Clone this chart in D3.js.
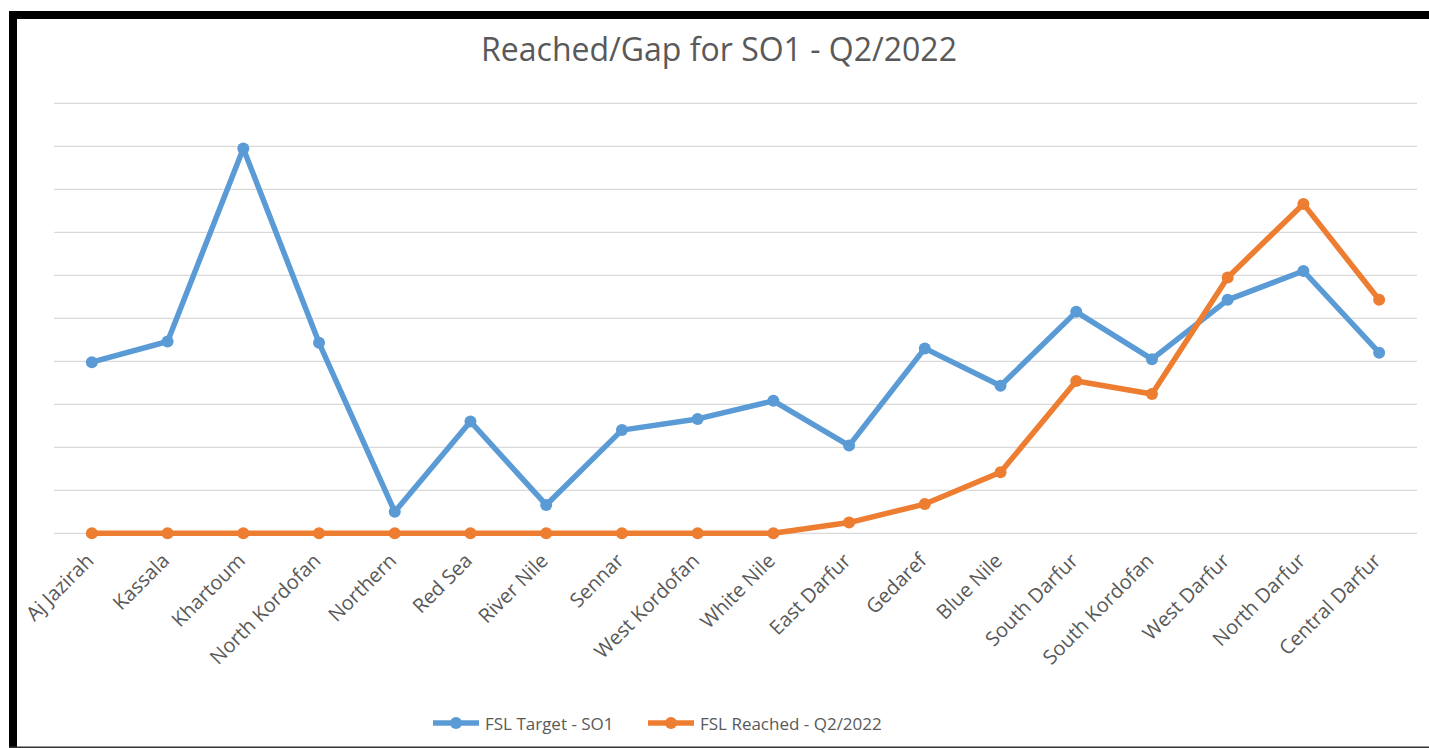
<!DOCTYPE html>
<html>
<head>
<meta charset="utf-8">
<script src="https://cdn.jsdelivr.net/npm/d3@7"></script>
<style>
  html, body { margin: 0; padding: 0; background: #fff; }
  svg { display: block; font-family: "Open Sans", "Noto Sans", sans-serif; }
</style>
</head>
<body>
<svg id="chart"></svg>
<script>
const regions = ['Aj Jazirah', 'Kassala', 'Khartoum', 'North Kordofan', 'Northern', 'Red Sea',
    'River Nile', 'Sennar', 'West Kordofan', 'White Nile', 'East Darfur', 'Gedaref', 'Blue Nile',
    'South Darfur', 'South Kordofan', 'West Darfur', 'North Darfur', 'Central Darfur'];
const targetSO1 = [3.98, 4.46, 8.95, 4.43, 0.50, 2.60, 0.66, 2.40, 2.66, 3.08,
    2.04, 4.30, 3.43, 5.15, 4.05, 5.43, 6.10, 4.20];
const reachedQ2 = [0, 0, 0, 0, 0, 0, 0, 0, 0, 0,
    0.25, 0.68, 1.42, 3.54, 3.24, 5.95, 7.66, 5.43];
const gridTicks = [0, 1, 2, 3, 4, 5, 6, 7, 8, 9, 10];
const seriesNames = ['FSL Target - SO1', 'FSL Reached - Q2/2022'];
const seriesColors = ['#5b9bd5', '#ed7d31'];

drawChart();

function drawChart() {
    const width = 1429, height = 748;
    const plot = { left: 54, right: 1417, top: 103.3, bottom: 533.3 };

    const svg = d3.select('#chart')
        .attr('width', width)
        .attr('height', height);

    svg.append('rect').attr('width', width).attr('height', height).attr('fill', '#fff');

    // screenshot frame
    svg.append('rect').attr('x', 9).attr('y', 11).attr('width', width - 9).attr('height', 8).attr('fill', '#000');
    svg.append('rect').attr('x', 9).attr('y', 11).attr('width', 8).attr('height', height - 11).attr('fill', '#000');
    svg.append('rect').attr('x', 9).attr('y', 746.5).attr('width', width - 9).attr('height', 1.5).attr('fill', '#333');

    const x = d3.scaleBand()
        .domain(regions)
        .range([plot.left, plot.right]);

    const y = d3.scaleLinear()
        .domain([0, 10])
        .range([plot.bottom, plot.top]);

    // gridlines
    svg.append('g')
        .selectAll('line')
        .data(gridTicks)
        .enter()
        .append('line')
        .attr('x1', plot.left)
        .attr('x2', plot.right)
        .attr('y1', (d) => y(d))
        .attr('y2', (d) => y(d))
        .attr('stroke', '#d9d9d9')
        .attr('stroke-width', 1.3);

    // title
    svg.append('text')
        .attr('x', 719)
        .attr('y', 61)
        .attr('text-anchor', 'middle')
        .attr('font-size', 32)
        .attr('fill', '#595959')
        .text('Reached/Gap for SO1 - Q2/2022');

    // category labels, rotated
    const cx = (d) => x(d) + x.bandwidth() / 2;
    svg.append('g')
        .selectAll('text')
        .data(regions)
        .enter()
        .append('text')
        .attr('transform', (d) => 'translate(' + (cx(d) + 3) + ',' + 562 + ') rotate(-45)')
        .attr('text-anchor', 'end')
        .attr('font-size', 20)
        .attr('fill', '#595959')
        .text((d) => d);

    const line = d3.line()
        .x((d, i) => cx(regions[i]))
        .y((d) => y(d));

    [targetSO1, reachedQ2].forEach((values, s) => {
        const g = svg.append('g');
        g.append('path')
            .datum(values)
            .attr('d', line)
            .attr('fill', 'none')
            .attr('stroke', seriesColors[s])
            .attr('stroke-width', 5.5)
            .attr('stroke-linejoin', 'round');
        g.selectAll('circle')
            .data(values)
            .enter()
            .append('circle')
            .attr('cx', (d, i) => cx(regions[i]))
            .attr('cy', (d) => y(d))
            .attr('r', 6)
            .attr('fill', seriesColors[s]);
    });

    // legend
    const legendX = [433, 648];
    const legend = svg.append('g')
        .selectAll('g')
        .data(seriesNames)
        .enter()
        .append('g')
        .attr('transform', (d, i) => 'translate(' + legendX[i] + ',723)');
    legend.append('line')
        .attr('x1', 0).attr('x2', 46)
        .attr('stroke', (d, i) => seriesColors[i])
        .attr('stroke-width', 5.5);
    legend.append('circle')
        .attr('cx', 23).attr('r', 6)
        .attr('fill', (d, i) => seriesColors[i]);
    legend.append('text')
        .attr('x', 52)
        .attr('y', 6.5)
        .attr('font-size', 17)
        .attr('fill', '#595959')
        .text((d) => d);
}
</script>
</body>
</html>
